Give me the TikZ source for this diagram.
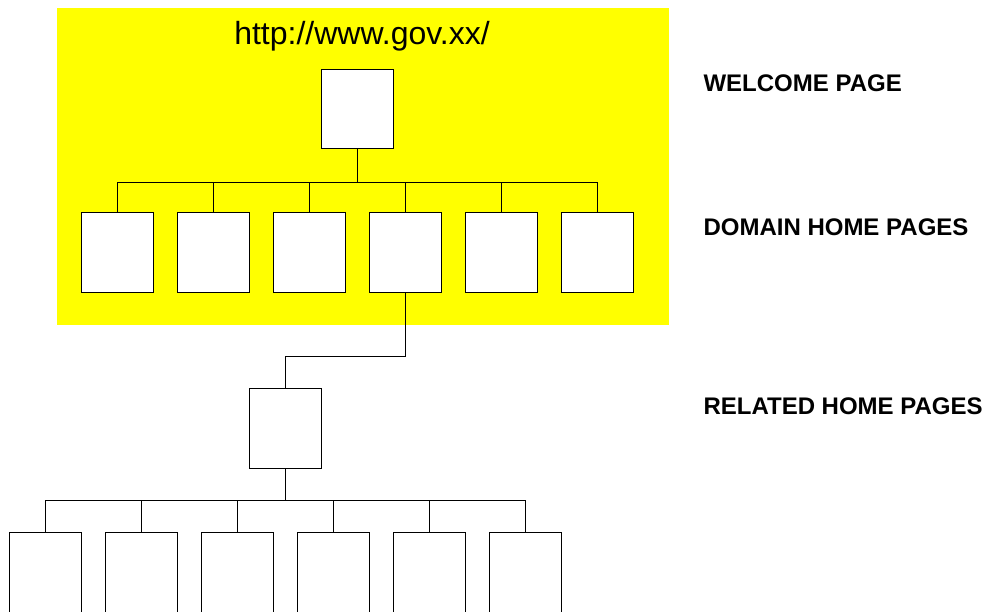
\documentclass[tikz,border=0pt]{standalone}
\usepackage{fontspec}
\setmainfont{Liberation Sans}
\usepackage{tikz}
\usetikzlibrary{positioning}

\definecolor{siteyellow}{RGB}{255,255,0}
\tikzset{
	page/.style={draw,fill=white,line width=1pt,inner sep=0pt,minimum width=72pt,minimum height=80pt},
	tall/.style={page,minimum height=110pt,anchor=north},
	level/.style={anchor=base west,font=\fontsize{24}{28}\selectfont\bfseries},
	link/.style={line width=1pt}
}

\begin{document}
\begin{tikzpicture}[x=1pt,y=-1pt]
\useasboundingbox (0,0) rectangle (986,612);
\fill[siteyellow] (57,8) rectangle (669,325);
\node[anchor=base,font=\fontsize{32}{36}\selectfont] (url) at (362,45) {http://www.gov.xx/};

\node[page,minimum height=79pt] (welcome) at (357,109.5) {};
\foreach \i in {1,...,6}
	\node[page] (dom\i) at (21+96*\i,253) {};
\node[page] (related) at (285,428.5) {};
\foreach \i in {1,...,6}
	\node[tall] (rel\i) at (-51+96*\i,532) {};

\draw[link] (welcome.south) -- ++(0,33) coordinate (bus1);
\foreach \i in {1,...,6}
	\draw[link] (dom\i.north) |- (bus1);
\draw[link] (dom4.south) -- ++(0,63.5) -| (related.north);
\draw[link] (related.south) -- ++(0,31.5) coordinate (bus2);
\foreach \i in {1,...,6}
	\draw[link] (rel\i.north) |- (bus2);

\node[level] (lblwelcome) at (700,92) {WELCOME PAGE};
\node[level] (lbldomain) at (700,236) {DOMAIN HOME PAGES};
\node[level] (lblrelated) at (700,415) {RELATED HOME PAGES};
\end{tikzpicture}
\end{document}
